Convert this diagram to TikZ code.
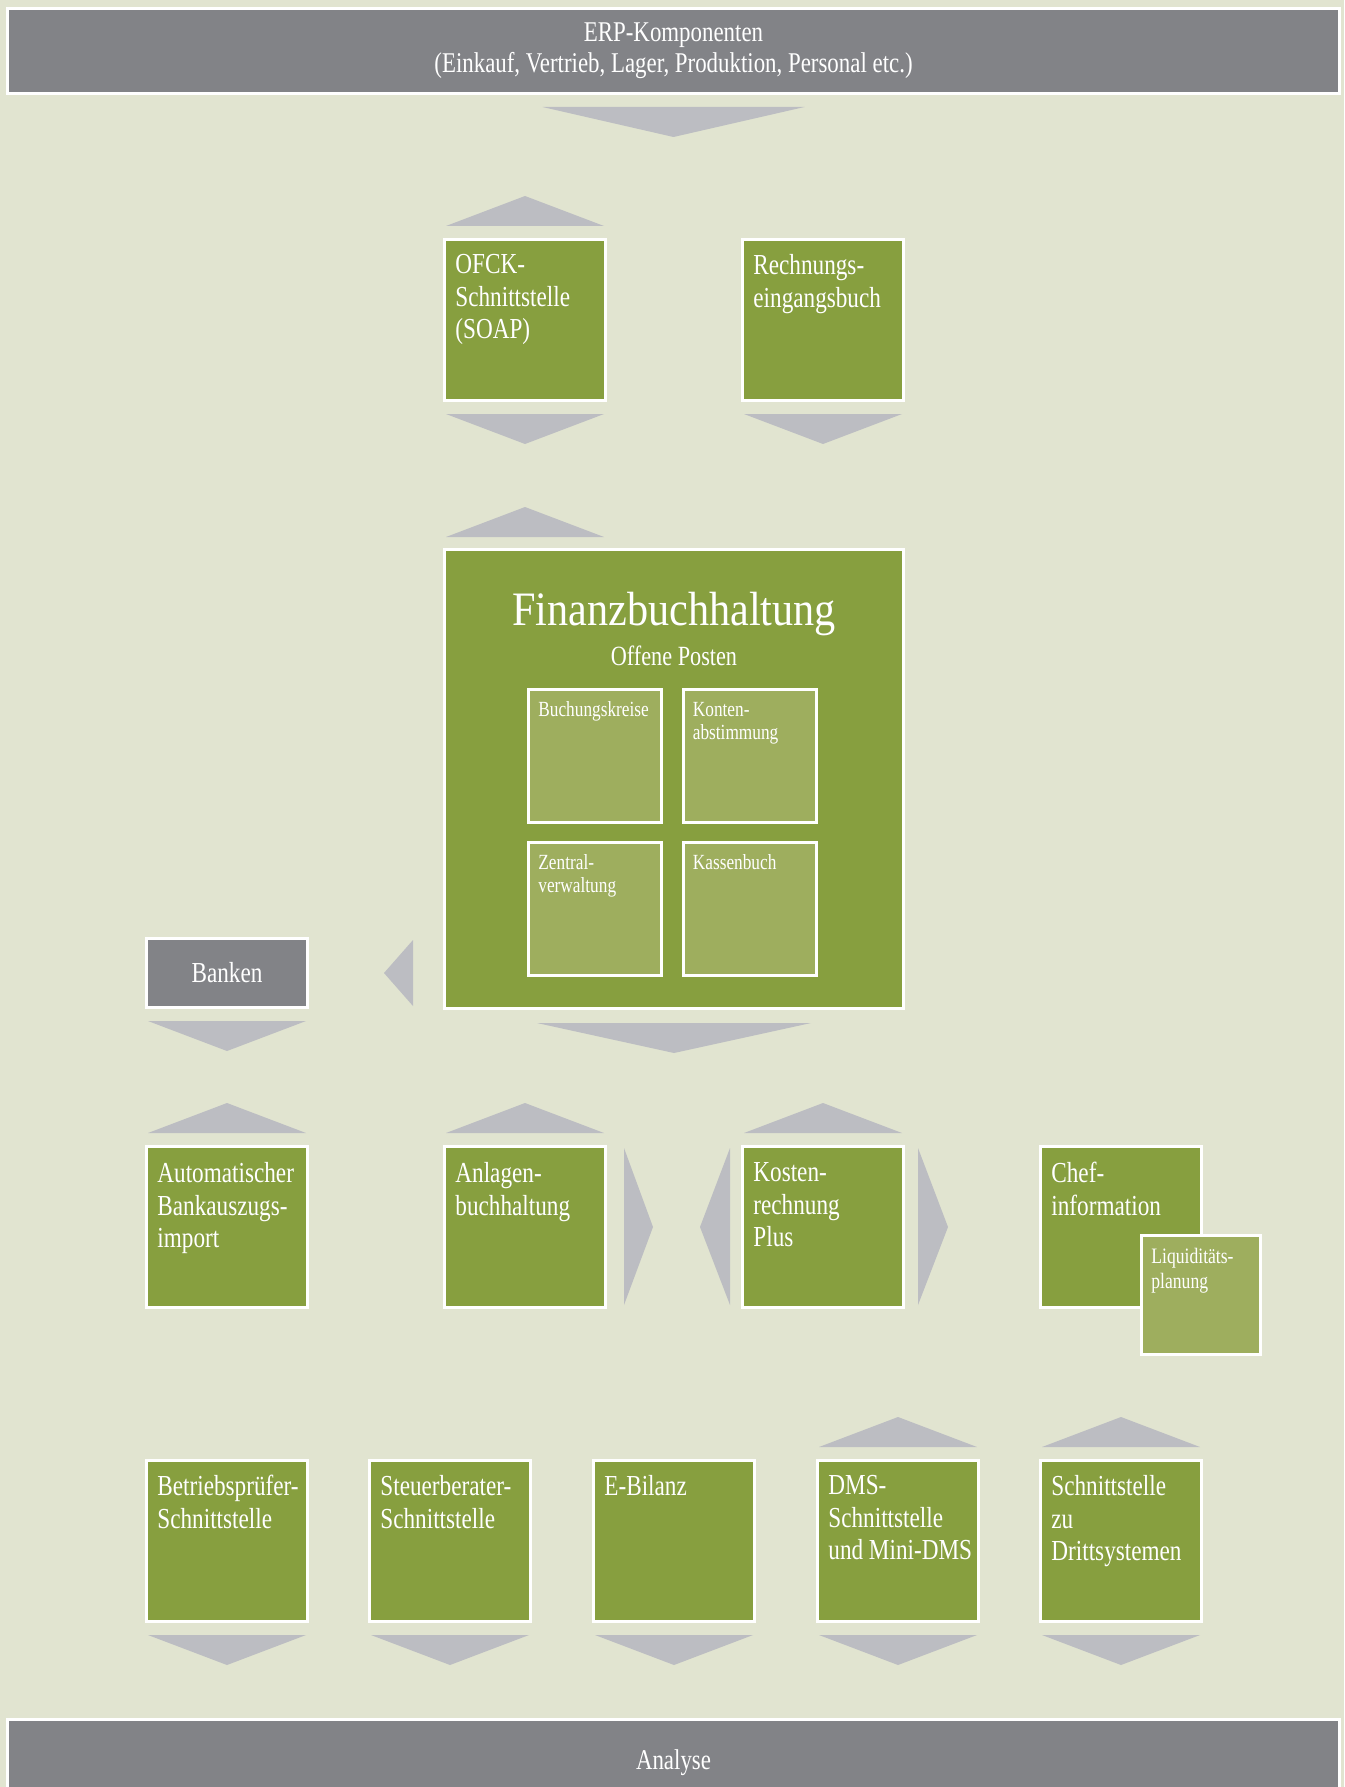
\documentclass[tikz,border=0pt]{standalone}
\usepackage{fontspec}
\setmainfont{Liberation Serif}[FakeStretch=0.8]
\newfontfamily\titelschrift{Liberation Serif}[FakeStretch=0.88]
\usetikzlibrary{positioning,calc}

\definecolor{hintergrund}{RGB}{225,228,208}
\definecolor{gruen}{RGB}{135,159,63}
\definecolor{hellgruen}{RGB}{158,174,94}
\definecolor{balken}{RGB}{130,131,135}
\definecolor{pfeilgrau}{RGB}{188,189,194}

\tikzset{
	kasten/.style={draw=white,line width=1.5pt,fill=gruen,minimum width=80.5pt,minimum height=80.5pt,inner sep=0pt},
	klein/.style={kasten,fill=hellgruen,minimum width=66.5pt,minimum height=66.5pt},
	grau/.style={draw=white,line width=1.5pt,fill=balken,inner sep=0pt,text=white,align=center,font=\fontsize{14.3}{15.5}\selectfont},
	beschriftung/.style={anchor=north west,inner sep=0pt,text=white,align=left,font=\fontsize{14.5}{16.3}\selectfont},
	kleinschrift/.style={beschriftung,font=\fontsize{10.8}{11.5}\selectfont},
	dreieck/.style={fill=pfeilgrau},
}

\newcommand{\hoch}[1]{\fill[dreieck] ($(#1.north west)+(3,-12)$) -- ($(#1.north east)+(-3,-12)$) -- ($(#1.north)+(0,-42)$) -- cycle;}
\newcommand{\runter}[1]{\fill[dreieck] ($(#1.south west)+(3,12)$) -- ($(#1.south east)+(-3,12)$) -- ($(#1.south)+(0,42)$) -- cycle;}

\begin{document}
\begin{tikzpicture}[x=0.5pt,y=-0.5pt]
	\useasboundingbox (0,0) rectangle (1344,1787);
	\clip (0,0) rectangle (1344,1787);
	\fill[hintergrund] (0,0) rectangle (1344,1787);

	% Balken oben und unten
	\node[grau,minimum width=666pt,minimum height=42.5pt] (erp) at (673.5,51) {ERP-Komponenten\\(Einkauf, Vertrieb, Lager, Produktion, Personal etc.)};
	\node[grau,minimum width=666pt,minimum height=44pt] (analyse) at (673.5,1763) {Analyse};

	\begin{scope}[every node/.style={kasten}]
		\node (ofck) at (525,320) {};
		\node (rechnung) at (823,320) {};
		\node[minimum width=229.5pt,minimum height=229.5pt] (fibu) at (674,779) {};
		\node (bankimport) at (227,1227) {};
		\node (anlagen) at (525,1227) {};
		\node (kosten) at (823,1227) {};
		\node (chef) at (1121,1227) {};
		\node (pruefer) at (227,1541) {};
		\node (steuer) at (450,1541) {};
		\node (ebilanz) at (674,1541) {};
		\node (dms) at (898,1541) {};
		\node (dritt) at (1121,1541) {};
	\end{scope}

	\begin{scope}[every node/.style={klein}]
		\node (buchung) at (595,755.5) {};
		\node (konten) at (749.5,755.5) {};
		\node (zentral) at (595,908.5) {};
		\node (kasse) at (749.5,908.5) {};
		\node[minimum width=59.5pt,minimum height=59.5pt] (liqui) at (1201,1295) {};
	\end{scope}

	\node[grau,minimum width=80.5pt,minimum height=34.5pt,font=\fontsize{14.5}{16}\selectfont] (banken) at (227,973) {Banken};

	% Beschriftungen
	\node[beschriftung] at ($(ofck.north west)+(12,16)$) {OFCK-\\Schnittstelle\\(SOAP)};
	\node[beschriftung] at ($(rechnung.north west)+(12,16)$) {Rechnungs-\\eingangsbuch};
	\node[anchor=base,inner sep=0pt,text=white,font=\fontsize{24}{28}\titelschrift] at ($(fibu.north)+(0,77)$) {Finanzbuchhaltung};
	\node[anchor=base,inner sep=0pt,text=white,font=\fontsize{13.9}{16}\selectfont] at ($(fibu.north)+(0,117)$) {Offene Posten};
	\node[kleinschrift] at ($(buchung.north west)+(11,14)$) {Buchungskreise};
	\node[kleinschrift] at ($(konten.north west)+(11,14)$) {Konten-\\abstimmung};
	\node[kleinschrift] at ($(zentral.north west)+(11,14)$) {Zentral-\\verwaltung};
	\node[kleinschrift] at ($(kasse.north west)+(11,14)$) {Kassenbuch};
	\node[beschriftung] at ($(bankimport.north west)+(12,17)$) {Automatischer\\Bankauszugs-\\import};
	\node[beschriftung] at ($(anlagen.north west)+(12,17)$) {Anlagen-\\buchhaltung};
	\node[beschriftung] at ($(kosten.north west)+(12,17)$) {Kosten-\\rechnung\\Plus};
	\node[beschriftung] at ($(chef.north west)+(12,17)$) {Chef-\\information};
	\node[kleinschrift,font=\fontsize{11}{12.5}\selectfont] at ($(liqui.north west)+(11,14)$) {Liquiditäts-\\planung};
	\node[beschriftung] at ($(pruefer.north west)+(12,16)$) {Betriebsprüfer-\\Schnittstelle};
	\node[beschriftung] at ($(steuer.north west)+(12,16)$) {Steuerberater-\\Schnittstelle};
	\node[beschriftung] at ($(ebilanz.north west)+(12,16)$) {E-Bilanz};
	\node[beschriftung] at ($(dms.north west)+(12,16)$) {DMS-\\Schnittstelle\\und Mini-DMS};
	\node[beschriftung] at ($(dritt.north west)+(12,16)$) {Schnittstelle\\zu\\Drittsystemen};

	% Dreiecke
	\fill[dreieck] ($(erp.south)+(-131,12)$) -- ($(erp.south)+(131,12)$) -- ($(erp.south)+(0,42)$) -- cycle;
	\hoch{ofck}
	\runter{ofck}
	\runter{rechnung}
	\fill[dreieck] ($(ofck.west |- fibu.north)+(3,-11)$) -- ($(ofck.east |- fibu.north)+(-3,-11)$) -- ($(ofck.center |- fibu.north)+(0,-41)$) -- cycle;
	\fill[dreieck] ($(fibu.south)+(-137,13)$) -- ($(fibu.south)+(137,13)$) -- ($(fibu.south)+(0,43)$) -- cycle;
	\fill[dreieck] ($(fibu.west |- banken)+(-30,-33)$) -- ($(fibu.west |- banken)+(-30,33)$) -- ($(fibu.west |- banken)+(-59,0)$) -- cycle;
	\runter{banken}
	\hoch{bankimport}
	\hoch{anlagen}
	\hoch{kosten}
	\fill[dreieck] ($(anlagen.north east)+(17,3)$) -- ($(anlagen.south east)+(17,-4)$) -- ($(anlagen.east)+(46,0)$) -- cycle;
	\fill[dreieck] ($(kosten.north west)+(-11,3)$) -- ($(kosten.south west)+(-11,-4)$) -- ($(kosten.west)+(-41,0)$) -- cycle;
	\fill[dreieck] ($(kosten.north east)+(13,3)$) -- ($(kosten.south east)+(13,-4)$) -- ($(kosten.east)+(43,0)$) -- cycle;
	\hoch{dms}
	\hoch{dritt}
	\runter{pruefer}
	\runter{steuer}
	\runter{ebilanz}
	\runter{dms}
	\runter{dritt}
\end{tikzpicture}
\end{document}
